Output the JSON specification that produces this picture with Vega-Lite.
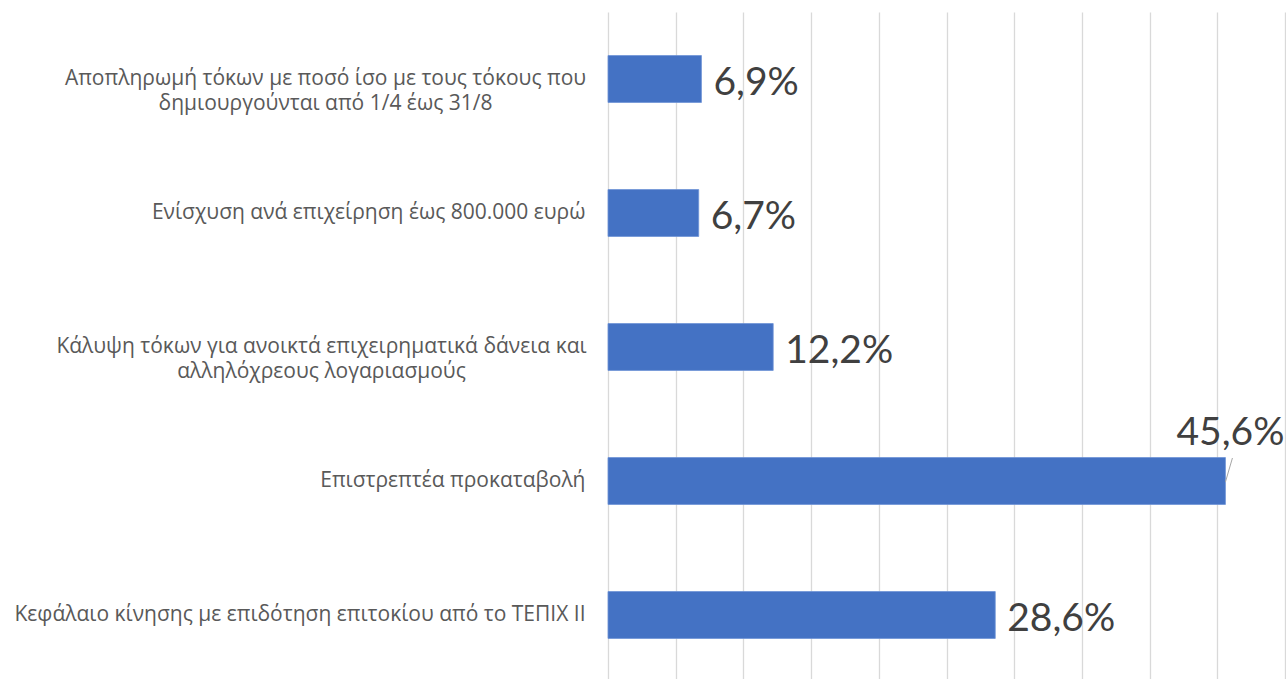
{
  "$schema": "https://vega.github.io/schema/vega-lite/v6.json",
  "width": 677,
  "height": 670,
  "autosize": {"type": "none"},
  "padding": {"left": 608, "top": 12, "right": 1, "bottom": 0},
  "background": "white",
  "config": {
    "view": {"stroke": null},
    "locale": {"number": {"decimal": ",", "thousands": ".", "grouping": [3], "currency": ["", " €"]}}
  },
  "data": {
    "values": [
      {"cat": "Αποπληρωμή τόκων με ποσό ίσο με τους τόκους που|δημιουργούνται από 1/4 έως 31/8", "value": 0.069},
      {"cat": "Ενίσχυση ανά επιχείρηση έως 800.000 ευρώ", "value": 0.067},
      {"cat": "Κάλυψη τόκων για ανοικτά επιχειρηματικά δάνεια και|αλληλόχρεους λογαριασμούς", "value": 0.122},
      {"cat": "Επιστρεπτέα προκαταβολή", "value": 0.456},
      {"cat": "Κεφάλαιο κίνησης με επιδότηση επιτοκίου από το ΤΕΠΙΧ ΙΙ", "value": 0.286}
    ]
  },
  "encoding": {
    "y": {
      "field": "cat", "type": "nominal", "sort": null, "title": null,
      "scale": {"paddingInner": 0.65, "paddingOuter": 0.325},
      "axis": {
        "domain": false, "ticks": false,
        "labelPadding": {"condition": [{"test": "indexof(datum.value, 'Αποπλ') == 0", "value": 283}, {"test": "indexof(datum.value, 'Κάλυψη') == 0", "value": 287}], "value": 23},
        "labelAlign": {"condition": {"test": "indexof(datum.value, '|') >= 0", "value": "center"}, "value": "right"},
        "labelExpr": "split(datum.label, '|')",
        "labelFont": "Open Sans", "labelFontSize": 21, "labelColor": "#595959",
        "labelLineHeight": 25, "labelLimit": 700
      }
    },
    "x": {
      "field": "value", "type": "quantitative", "title": null,
      "scale": {"domain": [0, 0.5], "nice": false},
      "axis": {
        "values": [0, 0.05, 0.1, 0.15, 0.2, 0.25, 0.3, 0.35, 0.4, 0.45, 0.5],
        "labels": false, "ticks": false, "domain": false,
        "grid": true, "gridColor": "#d9d9d9", "gridWidth": 1.3
      }
    }
  },
  "layer": [
    {"mark": {"type": "bar", "color": "#4472C4", "stroke": "#6f93d6", "strokeWidth": 0.8}},
    {
      "transform": [{"filter": "datum.value < 0.4"}],
      "mark": {"type": "text", "align": "left", "baseline": "middle", "dx": 12, "dy": 4, "font": "Lato", "fontSize": 39, "color": "#404040"},
      "encoding": {"text": {"field": "value", "format": ".1%"}}
    },
    {
      "transform": [{"filter": "datum.value > 0.4"}],
      "mark": {"type": "text", "align": "center", "baseline": "middle", "dx": 5, "dy": -48, "font": "Lato", "fontSize": 39, "color": "#404040"},
      "encoding": {"text": {"field": "value", "format": ".1%"}}
    },
    {
      "transform": [{"filter": "datum.value > 0.4"}],
      "mark": {"type": "rule", "color": "#a6a6a6", "strokeWidth": 1, "xOffset": 0, "x2Offset": 7, "yOffset": 1, "y2Offset": -23},
      "encoding": {"x2": {"field": "value"}, "y2": {"field": "cat"}}
    }
  ]
}
